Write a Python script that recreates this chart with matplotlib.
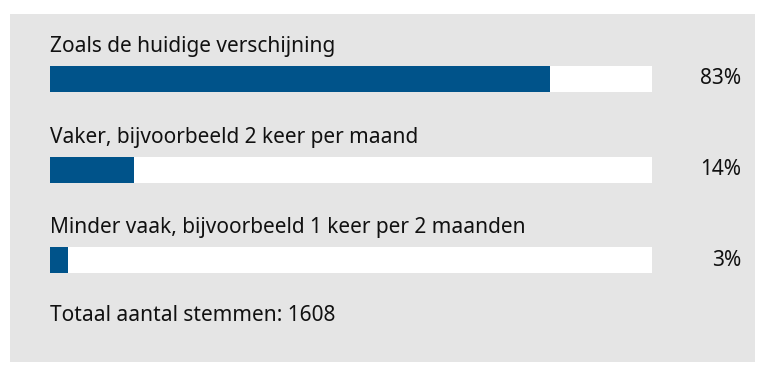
import matplotlib.pyplot as plt
from matplotlib.patches import Rectangle
from matplotlib.transforms import blended_transform_factory

plt.rcParams["font.family"] = ["Noto Sans", "DejaVu Sans"]

# =========================
# DATA
# =========================

labels = [
    "Zoals de huidige verschijning",
    "Vaker, bijvoorbeeld 2 keer per maand",
    "Minder vaak, bijvoorbeeld 1 keer per 2 maanden",
]
values = [83, 14, 3]
total_votes = 1608

BLUE = "#00538a"
GRAY = "#e5e5e5"
W, H = 768, 378
FS = 15

fig = plt.figure(figsize=(W / 100, H / 100), dpi=100)
fig.patch.set_facecolor("white")

# grey panel
panel = Rectangle(
    (10 / W, (H - 362) / H),
    745 / W,
    348 / H,
    transform=fig.transFigure,
    facecolor=GRAY,
    edgecolor="none",
    zorder=-10,
)
fig.add_artist(panel)

# axes covers the bar tracks: x 50..652 px, y 66..273 px
ax = fig.add_axes([50 / W, (H - 273) / H, 602 / W, 207 / H])
ax.set_facecolor("none")
ax.axis("off")

step = 90.5  # px between bars
bar_h = 26 / step
pad = bar_h / 2
pos = list(range(len(values)))
ax.barh(pos, [100] * len(values), height=bar_h, color="white", zorder=1)
ax.barh(pos, values, height=bar_h, color=BLUE, zorder=2)
ax.set_xlim(0, 100)
ax.set_ylim(pos[-1] + pad, -pad)

pct_tf = blended_transform_factory(ax.transAxes, ax.transData)
for i, (lab, v) in enumerate(zip(labels, values)):
    ax.text(0, i - pad - 14 / step, lab, fontsize=FS, color="#111111",
            va="baseline", ha="left", clip_on=False)
    ax.text((741 - 50) / 602, i, f"{v}%", fontsize=FS, color="#111111",
            va="center", ha="right", transform=pct_tf, clip_on=False)

ax.text(0, pos[-1] + 61 / step, f"Totaal aantal stemmen: {total_votes}",
        fontsize=FS, color="#111111", va="baseline", ha="left", clip_on=False)

plt.savefig("out.png", dpi=100)
